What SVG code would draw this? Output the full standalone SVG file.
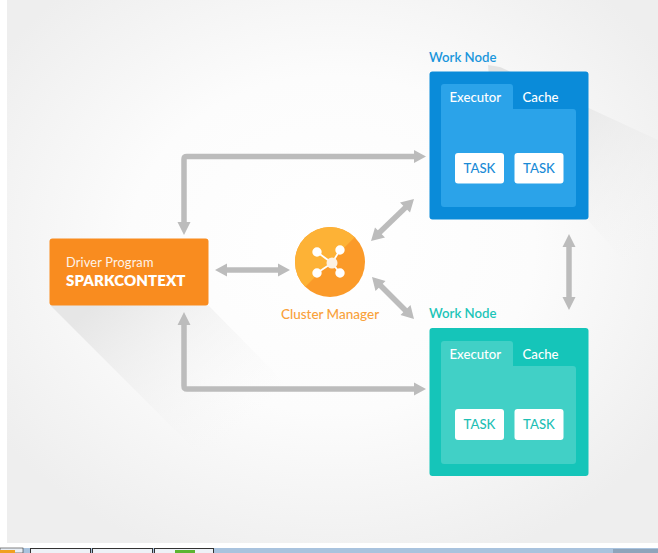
<svg xmlns="http://www.w3.org/2000/svg" width="658" height="553" viewBox="0 0 658 553">
<style>
text{font-family:"Lato","Noto Sans",sans-serif}
.c{fill:none;stroke:#bcbcbc;stroke-width:5.500;stroke-linejoin:round}
.h{fill:#bcbcbc}
.tab{font-size:13.200px;fill:#fff;font-weight:500}
.wn{font-size:13.200px;font-weight:600}
.task{fill:#fff}
.tt{font-size:13.200px;text-anchor:middle;font-weight:500}
</style>
<defs>
<radialGradient id="bg" cx="50%" cy="45%" r="62%"><stop offset="0" stop-color="#ffffff"/><stop offset=".5" stop-color="#fcfcfc"/><stop offset="1" stop-color="#eeeeee"/></radialGradient>
<linearGradient id="sh" gradientUnits="userSpaceOnUse" x1="110" y1="290" x2="240" y2="430"><stop offset="0" stop-color="#e6e6e6"/><stop offset="1" stop-color="#f6f6f6" stop-opacity="0"/></linearGradient>
<linearGradient id="sh2" gradientUnits="userSpaceOnUse" x1="520" y1="90" x2="640" y2="260"><stop offset="0" stop-color="#e3e3e3"/><stop offset="1" stop-color="#f2f2f2" stop-opacity="0"/></linearGradient>
</defs>
<rect width="658" height="553" fill="#fff"/>
<rect x="7" y="0" width="651" height="543" fill="url(#bg)"/>
<path d="M50 305L208 305L400 500L245 500Z" fill="url(#sh)"/>
<path d="M488 65L500 67L658 140L658 300L588 220L500 220Z" fill="url(#sh2)"/>
<g id="bottom-bar">
<rect x="0" y="548" width="658" height="5" fill="#a9c3de"/>
<rect x="613" y="549" width="45" height="4" fill="#8ea4bb"/>
<rect x="0" y="548" width="23" height="5" fill="#e8eef5" stroke="#333" stroke-width=".6"/><rect x="0" y="550" width="15" height="3" fill="#f0a020"/>
<rect x="30.500" y="548.500" width="60" height="5" fill="#eef2f7" stroke="#333" stroke-width="1"/>
<rect x="92.500" y="548.500" width="60" height="5" fill="#eef2f7" stroke="#333" stroke-width="1"/>
<rect x="154.500" y="548.500" width="59" height="5" fill="#eef2f7" stroke="#333" stroke-width="1"/><rect x="175" y="550" width="20" height="3" fill="#5cb531"/>
</g>
<g id="connectors">
<path class="c" d="M184 224V159Q184 156.500 187 156.500H416"/><path class="h" d="M184 235L177.500 222H190.500ZM426 156.500L414 150V163Z"/>
<path class="c" d="M184 324V386Q184 389 187 389H416"/><path class="h" d="M184 312L177.500 325H190.500ZM426 389L414 382.500V395.500Z"/>
<path class="c" d="M226 270H280"/><path class="h" d="M215 270L227 263.500V276.500ZM290 270L278 263.500V276.500Z"/>
<path class="c" d="M379 233L406 207"/><path class="h" d="M371 241L375 227.500L385 237.500ZM414 199L410 212.500L400 202.500Z"/>
<path class="c" d="M380 285L406 311"/><path class="h" d="M372 277L385.500 281L375.500 291ZM414 319L400.500 315L410.500 305Z"/>
<path class="c" d="M569 245V299"/><path class="h" d="M569 234L562.500 247H575.500ZM569 310L562.500 297H575.500Z"/>
</g>
<g id="driver">
<rect x="49.500" y="238.500" width="159" height="67" rx="3" fill="#f98c1f"/>
<text x="66" y="266.500" font-size="12.800" fill="#fff" opacity=".9" letter-spacing=".15">Driver Program</text>
<text x="66" y="286" font-size="15" font-weight="800" fill="#fff" letter-spacing=".1">SPARKCONTEXT</text>
</g>
<g id="cluster-manager">
<circle cx="330" cy="262" r="35" fill="#fb9a29"/>
<path d="M305.300 286.800A35 35 0 0 1 354.700 237.200Z" fill="#fdb236"/>
<g stroke="#fff" stroke-width="1.800" fill="#fff"><path d="M317 252L332 263M340 250L332 263M317 273L332 263M340 273L332 263"/>
<circle cx="317" cy="252" r="3.800"/><circle cx="340" cy="250" r="3.800"/><circle cx="317" cy="273" r="3.800"/><circle cx="340" cy="273" r="3.800"/></g>
<circle cx="332" cy="263" r="5.500" fill="#fdf1e2"/>
<text x="330" y="318.500" font-size="13.500" font-weight="500" fill="#f9a13a" text-anchor="middle">Cluster Manager</text>
</g>
<g id="work-node-1">
<text class="wn" x="429" y="62" fill="#1a96dc">Work Node</text>
<rect x="429.500" y="71.500" width="159" height="148" rx="3" fill="#0a8bd9"/>
<path d="M441 109V87Q441 84 444 84H510Q513 84 513 87V109H573Q576 109 576 112V204Q576 207 573 207H444Q441 207 441 204Z" fill="#2ba3e9"/>
<text class="tab" x="449.500" y="102">Executor</text><text class="tab" x="522.500" y="102">Cache</text>
<rect class="task" x="455" y="153" width="49" height="30.500" rx="3"/><rect class="task" x="514.500" y="153" width="49" height="30.500" rx="3"/>
<text class="tt" x="479.500" y="173" fill="#1a8bd6">TASK</text><text class="tt" x="539" y="173" fill="#1a8bd6">TASK</text>
</g>
<g id="work-node-2">
<text class="wn" x="429" y="318" fill="#1cc5b8">Work Node</text>
<rect x="429.500" y="328" width="159" height="148" rx="3" fill="#15c5b9"/>
<path d="M441 366V344Q441 341 444 341H510Q513 341 513 344V366H573Q576 366 576 369V461Q576 464 573 464H444Q441 464 441 461Z" fill="#41d0c6"/>
<text class="tab" x="449.500" y="358.500">Executor</text><text class="tab" x="522.500" y="358.500">Cache</text>
<rect class="task" x="455" y="409" width="49" height="31" rx="3"/><rect class="task" x="514.500" y="409" width="49" height="31" rx="3"/>
<text class="tt" x="479.500" y="429" fill="#1fc0b5">TASK</text><text class="tt" x="539" y="429" fill="#1fc0b5">TASK</text>
</g>
</svg>
